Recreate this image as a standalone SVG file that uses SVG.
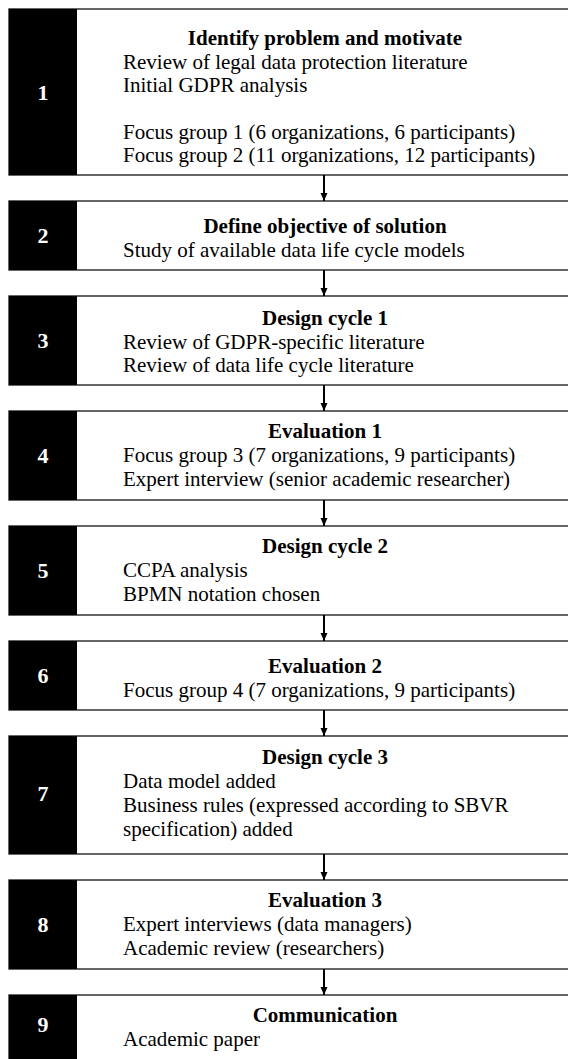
<svg xmlns="http://www.w3.org/2000/svg" width="568" height="1059" viewBox="0 0 568 1059">
<style>
.box{fill:#fff;stroke:#333;stroke-width:1.5}
.num{fill:#000}
.n{font-family:"Liberation Serif","Times New Roman",serif;font-weight:bold;font-size:22px;fill:#fff;text-anchor:middle}
.t{font-family:"Liberation Serif","Times New Roman",serif;font-weight:bold;font-size:21px;fill:#000;text-anchor:middle}
.l{font-family:"Liberation Serif","Times New Roman",serif;font-size:21px;fill:#000}
.c{stroke:#000;stroke-width:2;fill:none;marker-end:url(#ah)}
</style>
<defs>
<marker id="ah" viewBox="0 0 8 8" refX="8" refY="4" markerWidth="8" markerHeight="8" markerUnits="userSpaceOnUse" orient="auto">
<path d="M0,0.5 L8,4 L0,7.5 Z" fill="#000"/>
</marker>
</defs>
<rect width="568" height="1059" fill="#fff"/>
<g id="step1">
<rect class="box" x="9" y="9" width="570" height="166"/>
<rect class="num" x="9" y="9" width="68" height="166"/>
<text class="n" x="43" y="100">1</text>
<text class="t" x="325" y="45">Identify problem and motivate</text>
<text class="l" x="123" y="69">Review of legal data protection literature</text>
<text class="l" x="123" y="92">Initial GDPR analysis</text>
<text class="l" x="123" y="139">Focus group 1 (6 organizations, 6 participants)</text>
<text class="l" x="123" y="162">Focus group 2 (11 organizations, 12 participants)</text>
</g>
<g id="step2">
<rect class="box" x="9" y="201" width="570" height="69"/>
<rect class="num" x="9" y="201" width="68" height="69"/>
<text class="n" x="43" y="243">2</text>
<text class="t" x="325" y="233">Define objective of solution</text>
<text class="l" x="123" y="257">Study of available data life cycle models</text>
</g>
<g id="step3">
<rect class="box" x="9" y="296" width="570" height="89"/>
<rect class="num" x="9" y="296" width="68" height="89"/>
<text class="n" x="43" y="348">3</text>
<text class="t" x="325" y="325">Design cycle 1</text>
<text class="l" x="123" y="349">Review of GDPR-specific literature</text>
<text class="l" x="123" y="372">Review of data life cycle literature</text>
</g>
<g id="step4">
<rect class="box" x="9" y="411" width="570" height="89"/>
<rect class="num" x="9" y="411" width="68" height="89"/>
<text class="n" x="43" y="463">4</text>
<text class="t" x="325" y="438">Evaluation 1</text>
<text class="l" x="123" y="462">Focus group 3 (7 organizations, 9 participants)</text>
<text class="l" x="123" y="486">Expert interview (senior academic researcher)</text>
</g>
<g id="step5">
<rect class="box" x="9" y="526" width="570" height="89"/>
<rect class="num" x="9" y="526" width="68" height="89"/>
<text class="n" x="43" y="578">5</text>
<text class="t" x="325" y="553">Design cycle 2</text>
<text class="l" x="123" y="577">CCPA analysis</text>
<text class="l" x="123" y="601">BPMN notation chosen</text>
</g>
<g id="step6">
<rect class="box" x="9" y="641" width="570" height="69"/>
<rect class="num" x="9" y="641" width="68" height="69"/>
<text class="n" x="43" y="683">6</text>
<text class="t" x="325" y="673">Evaluation 2</text>
<text class="l" x="123" y="697">Focus group 4 (7 organizations, 9 participants)</text>
</g>
<g id="step7">
<rect class="box" x="9" y="736" width="570" height="118"/>
<rect class="num" x="9" y="736" width="68" height="118"/>
<text class="n" x="43" y="801">7</text>
<text class="t" x="325" y="764">Design cycle 3</text>
<text class="l" x="123" y="788">Data model added</text>
<text class="l" x="123" y="812">Business rules (expressed according to SBVR</text>
<text class="l" x="123" y="836">specification) added</text>
</g>
<g id="step8">
<rect class="box" x="9" y="880" width="570" height="89"/>
<rect class="num" x="9" y="880" width="68" height="89"/>
<text class="n" x="43" y="932">8</text>
<text class="t" x="325" y="907">Evaluation 3</text>
<text class="l" x="123" y="931">Expert interviews (data managers)</text>
<text class="l" x="123" y="955">Academic review (researchers)</text>
</g>
<g id="step9">
<rect class="box" x="9" y="995" width="570" height="80"/>
<rect class="num" x="9" y="995" width="68" height="80"/>
<text class="n" x="43" y="1032">9</text>
<text class="t" x="325" y="1022">Communication</text>
<text class="l" x="123" y="1046">Academic paper</text>
</g>
<g id="connectors">
<line class="c" x1="324" y1="175" x2="324" y2="201"/>
<line class="c" x1="324" y1="270" x2="324" y2="296"/>
<line class="c" x1="324" y1="385" x2="324" y2="411"/>
<line class="c" x1="324" y1="500" x2="324" y2="526"/>
<line class="c" x1="324" y1="615" x2="324" y2="641"/>
<line class="c" x1="324" y1="710" x2="324" y2="736"/>
<line class="c" x1="324" y1="854" x2="324" y2="880"/>
<line class="c" x1="324" y1="969" x2="324" y2="995"/>
</g>
</svg>
